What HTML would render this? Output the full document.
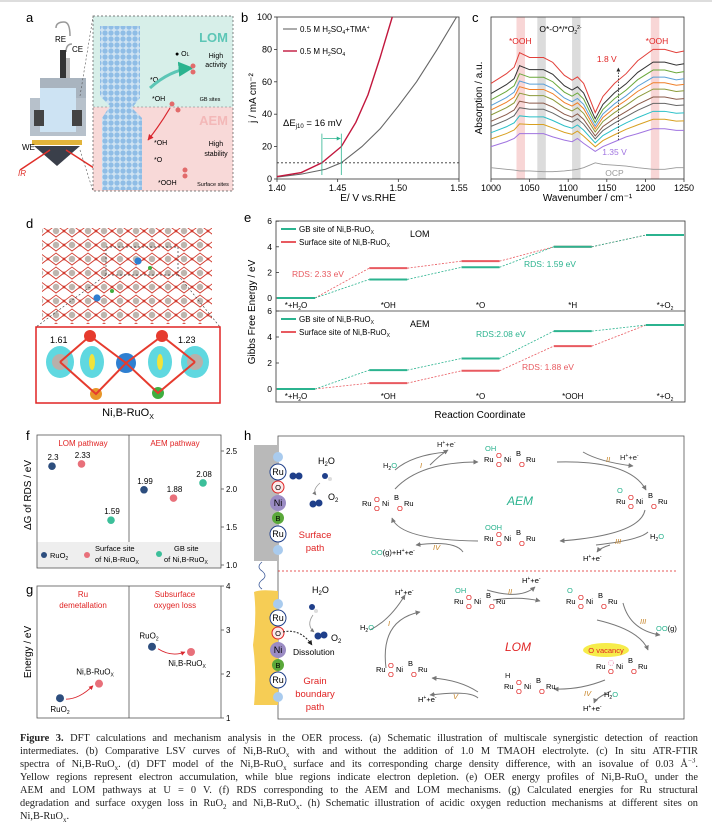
<!DOCTYPE html>
<html><head><meta charset="utf-8">
<style>
body{margin:0;background:#fff;width:712px;height:830px;overflow:hidden;font-family:"Liberation Sans",sans-serif}
#wrap{position:relative;width:712px;height:830px}
svg text{font-family:"Liberation Sans",sans-serif}
.cap{position:absolute;left:20px;width:678px;font-family:"Liberation Serif",serif;font-size:10.4px;line-height:13.0px;color:#222}
.cap div{text-align:justify;text-align-last:justify;white-space:nowrap;overflow:hidden;height:13px}
.cap div.last{text-align-last:left}
.cap sub,.cap sup{line-height:0;font-size:7px}
</style></head><body>
<div id="wrap">
<svg id="fig" width="712" height="830" viewBox="0 0 712 830" xmlns="http://www.w3.org/2000/svg">
<defs>
<pattern id="slab" width="6" height="6" patternUnits="userSpaceOnUse"><rect width="6" height="6" fill="#cfe3f2"/><circle cx="3" cy="3" r="2.6" fill="#8fbde6"/></pattern>
<pattern id="lat" width="16" height="14" patternUnits="userSpaceOnUse"><rect width="16" height="14" fill="#fff"/><path d="M0 7 L8 1 L16 7 L8 13Z" fill="none" stroke="#d23a2e" stroke-width="0.9"/><circle cx="8" cy="7" r="3.2" fill="#bdb5ae"/><circle cx="0" cy="7" r="1.4" fill="#d23a2e"/><circle cx="16" cy="7" r="1.4" fill="#d23a2e"/></pattern>
<marker id="arrG" viewBox="0 0 10 10" refX="9" refY="5" markerWidth="5" markerHeight="5" orient="auto"><path d="M0 0L10 5L0 10z" fill="#777"/></marker>
<marker id="arrR" viewBox="0 0 10 10" refX="9" refY="5" markerWidth="5" markerHeight="5" orient="auto"><path d="M0 0L10 5L0 10z" fill="#d9262e"/></marker>
<marker id="arrT" viewBox="0 0 10 10" refX="9" refY="5" markerWidth="5" markerHeight="5" orient="auto"><path d="M0 0L10 5L0 10z" fill="#2bb38f"/></marker>
<marker id="arrK" viewBox="0 0 10 10" refX="9" refY="5" markerWidth="5" markerHeight="5" orient="auto"><path d="M0 0L10 5L0 10z" fill="#222"/></marker>
</defs>
<rect x="0" y="0" width="712" height="2" fill="#ddd"/>

<!-- Panel a -->
<g>
<text x="26" y="22" font-size="13">a</text>
<g>
<path d="M56 28 Q56 22 64 22 Q70 22 70 36" fill="none" stroke="#999" stroke-width="1.5"/>
<path d="M66 52 Q66 44 72 44" fill="none" stroke="#999" stroke-width="1.5"/>
<text x="55" y="42" font-size="8">RE</text>
<text x="72" y="52" font-size="8">CE</text>
<rect x="60" y="50" width="6" height="70" fill="#333"/>
<rect x="66" y="58" width="4" height="55" fill="#bbb"/>
<rect x="40" y="78" width="46" height="20" fill="#a9b4bf"/>
<rect x="30" y="98" width="56" height="38" fill="#b7c1cb"/>
<rect x="40" y="88" width="36" height="44" fill="#cde3f3"/>
<rect x="34" y="110" width="10" height="16" fill="#444"/><rect x="72" y="110" width="10" height="16" fill="#444"/>
<rect x="32" y="140" width="50" height="5" fill="#e2b43a"/>
<path d="M34 146 L80 146 L57 166Z" fill="#3a3f4a"/>
<path d="M20 170 L50 150 M94 168 L66 150" stroke="#e0302a" stroke-width="1.5"/>
<text x="22" y="150" font-size="8">WE</text>
<text x="18" y="176" font-size="8" fill="#e0302a" font-style="italic">IR</text>
</g>
<path d="M80 96 L93 17 M80 150 L93 191" stroke="#555" stroke-dasharray="2,2" stroke-width="0.6"/>
<rect x="93" y="16" width="140" height="91" fill="#d7efe9"/>
<rect x="93" y="107" width="140" height="84" fill="#f8d9d8"/>
<rect x="93" y="16" width="140" height="175" fill="none" stroke="#555" stroke-dasharray="2,2" stroke-width="0.7"/>
<line x1="93" y1="107" x2="233" y2="107" stroke="#777" stroke-dasharray="2,2" stroke-width="0.6"/>
<path d="M100 26 L140 26 L140 98 L132 108 L142 118 L142 190 L102 190 L102 118 L110 106 L100 96Z" fill="url(#slab)"/>
<text x="228" y="42" font-size="13" font-weight="bold" fill="#5cc6b6" text-anchor="end">LOM</text>
<text x="228" y="125" font-size="13" font-weight="bold" fill="#f3b8b8" text-anchor="end">AEM</text>
<text x="216" y="58" font-size="7" text-anchor="middle">High</text><text x="216" y="67" font-size="7" text-anchor="middle">activity</text>
<text x="216" y="146" font-size="7" text-anchor="middle">High</text><text x="216" y="156" font-size="7" text-anchor="middle">stability</text>
<text x="210" y="101" font-size="5.5" text-anchor="middle">GB sites</text>
<text x="213" y="186" font-size="5.5" text-anchor="middle">Surface sites</text>
<text x="150" y="82" font-size="7">*O</text><text x="152" y="101" font-size="7">*OH</text>
<text x="154" y="145" font-size="7">*OH</text><text x="154" y="162" font-size="7">*O</text><text x="158" y="185" font-size="7">*OOH</text>
<text x="175" y="56" font-size="7">● O<tspan font-size="5">L</tspan></text>
<path d="M150 88 Q170 70 192 68" fill="none" stroke="#5cc6b6" stroke-width="3" marker-end="url(#arrT)"/>
<path d="M170 108 Q160 125 148 140" fill="none" stroke="#d9262e" stroke-width="1.2" marker-end="url(#arrR)"/>
<circle cx="193" cy="66" r="2.5" fill="#e26b6b"/><circle cx="193" cy="72" r="2.5" fill="#e26b6b"/>
<circle cx="172" cy="104" r="2.5" fill="#e26b6b"/><circle cx="178" cy="110" r="2.5" fill="#e26b6b"/>
<circle cx="185" cy="170" r="2.5" fill="#e26b6b"/><circle cx="185" cy="176" r="2.5" fill="#e26b6b"/>
</g>

<!-- Panel d -->
<g>
<text x="26" y="228" font-size="13">d</text>
<rect x="42" y="222" width="170" height="102" fill="url(#lat)"/>
<rect x="42" y="222" width="170" height="6" fill="#fff"/>
<circle cx="138" cy="261" r="3.6" fill="#2e7fd1"/><circle cx="97" cy="298" r="3.6" fill="#2e7fd1"/>
<circle cx="150" cy="268" r="2" fill="#3fae3f"/><circle cx="112" cy="291" r="2" fill="#3fae3f"/>
<rect x="106" y="247" width="72" height="28" fill="none" stroke="#333" stroke-dasharray="2,2" stroke-width="0.7"/>
<path d="M106 275 L36 327 M178 275 L220 327" stroke="#333" stroke-dasharray="2,2" stroke-width="0.6"/>
<rect x="36" y="327" width="184" height="76" fill="#fff" stroke="#e02424" stroke-width="1.5"/>
<g>
<ellipse cx="60" cy="362" rx="14" ry="16" fill="#5fd8e0"/><circle cx="60" cy="362" r="8" fill="#b8b0aa"/>
<ellipse cx="92" cy="362" rx="12" ry="16" fill="#5fd8e0"/><ellipse cx="92" cy="362" rx="3" ry="8" fill="#f1e33a"/>
<ellipse cx="160" cy="362" rx="12" ry="16" fill="#5fd8e0"/><ellipse cx="160" cy="362" rx="3" ry="8" fill="#f1e33a"/>
<ellipse cx="195" cy="362" rx="14" ry="16" fill="#5fd8e0"/><circle cx="195" cy="362" r="8" fill="#b8b0aa"/>
<circle cx="126" cy="363" r="10" fill="#2e7fd1"/>
<circle cx="90" cy="336" r="6" fill="#e63b2e"/><circle cx="162" cy="336" r="6" fill="#e63b2e"/>
<circle cx="96" cy="394" r="6" fill="#e8962a"/><circle cx="158" cy="393" r="6" fill="#3fae3f"/>
<path d="M60 362 L90 336 L126 363 L162 336 L195 362 M60 362 L96 394 L126 363 L158 393 L195 362" stroke="#e63b2e" stroke-width="2" fill="none"/>
</g>
<text x="50" y="343" font-size="9">1.61</text>
<text x="178" y="343" font-size="9">1.23</text>
<text x="128" y="416" font-size="11" text-anchor="middle">Ni,B-RuO<tspan font-size="7" dy="3">X</tspan></text>
</g>

<g id="pb"></g>
<g id="pc"></g>
<g id="pe"></g>
<g id="pf"></g>
<g id="pg"></g>

<!-- Panel h -->
<g font-size="7.5">
<text x="244" y="440" font-size="13">h</text>
<rect x="278" y="436" width="406" height="283" fill="#fff" stroke="#555" stroke-width="0.8"/>
<rect x="254" y="445" width="24" height="116" fill="#b9b9b9"/>
<path d="M262 562 q-6 5 0 9 q6 5 0 9 q-6 5 0 9" fill="none" stroke="#3c5a9a" stroke-width="0.8"/>
<path d="M254 592 q6 -3 24 -1 L278 705 L254 705 q3 -30 -1 -60 q4 -30 1 -53z" fill="#f6cd55"/>
<g id="atomsTop"></g><g id="atomsBot"></g>
<text x="318" y="464" font-size="9">H<tspan font-size="6" dy="2">2</tspan><tspan dy="-2">O</tspan></text>
<circle cx="325" cy="476" r="3" fill="#1f3f8a"/><circle cx="330" cy="479" r="2" fill="#ddd"/>
<circle cx="313" cy="504" r="3.5" fill="#1f3f8a"/><circle cx="319" cy="503" r="3.5" fill="#1f3f8a"/>
<text x="328" y="500" font-size="9">O<tspan font-size="6" dy="2">2</tspan></text>
<circle cx="293" cy="476" r="3.5" fill="#1f3f8a"/><circle cx="299" cy="476" r="3.5" fill="#1f3f8a"/>
<path d="M320 483 Q312 490 316 495" fill="none" stroke="#999" stroke-width="0.8" marker-end="url(#arrG)"/>
<text x="315" y="538" font-size="9.5" fill="#e02424" text-anchor="middle">Surface</text>
<text x="315" y="551" font-size="9.5" fill="#e02424" text-anchor="middle">path</text>
<text x="312" y="593" font-size="9">H<tspan font-size="6" dy="2">2</tspan><tspan dy="-2">O</tspan></text>
<circle cx="312" cy="607" r="3" fill="#1f3f8a"/><circle cx="316" cy="611" r="2" fill="#ddd"/>
<circle cx="318" cy="636" r="3.5" fill="#1f3f8a"/><circle cx="324" cy="635" r="3.5" fill="#1f3f8a"/>
<text x="331" y="641" font-size="9">O<tspan font-size="6" dy="2">2</tspan></text>
<path d="M313 615 Q306 625 314 632" fill="none" stroke="#999" stroke-width="0.8" marker-end="url(#arrG)"/>
<path d="M283 632 Q300 628 312 645" fill="none" stroke="#222" stroke-width="1" stroke-dasharray="2,1.5" marker-end="url(#arrK)"/>
<text x="293" y="655" font-size="8.5">Dissolution</text>
<text x="315" y="684" font-size="9.5" fill="#e02424" text-anchor="middle">Grain</text>
<text x="315" y="697" font-size="9.5" fill="#e02424" text-anchor="middle">boundary</text>
<text x="315" y="710" font-size="9.5" fill="#e02424" text-anchor="middle">path</text>
<line x1="278" y1="571" x2="676" y2="571" stroke="#e02424" stroke-dasharray="2,2" stroke-width="0.8"/>
<g fill="none" stroke="#777" stroke-width="1">
<path d="M395 489 Q420 462 478 462" marker-end="url(#arrG)"/>
<path d="M557 462 Q630 460 646 490" marker-end="url(#arrG)"/>
<path d="M645 510 Q640 535 560 541" marker-end="url(#arrG)"/>
<path d="M478 541 Q400 540 392 518" marker-end="url(#arrG)"/>
<path d="M395 470 Q412 455 447 452"/><path d="M430 465 Q440 455 448 450" marker-end="url(#arrG)"/>
<path d="M583 452 Q600 462 633 466" marker-end="url(#arrG)"/>
<path d="M648 532 Q640 540 596 545" /><path d="M610 545 Q600 548 597 552" marker-end="url(#arrG)"/>
<path d="M463 552 Q455 540 416 545" marker-end="url(#arrG)"/>
</g>
<text x="437" y="447" fill="#222">H<tspan font-size="5" dy="-3">+</tspan><tspan dy="3">+e</tspan><tspan font-size="5" dy="-3">-</tspan></text>
<text x="383" y="468"><tspan fill="#222">H</tspan><tspan font-size="5" dy="2">2</tspan><tspan dy="-2" fill="#2bb38f">O</tspan></text>
<text x="420" y="468" fill="#c8862a" font-style="italic">I</text>
<text x="606" y="462" fill="#c8862a" font-style="italic">II</text>
<text x="620" y="460" fill="#222">H<tspan font-size="5" dy="-3">+</tspan><tspan dy="3">+e</tspan><tspan font-size="5" dy="-3">-</tspan></text>
<text x="615" y="544" fill="#c8862a" font-style="italic">III</text>
<text x="650" y="539"><tspan>H</tspan><tspan font-size="5" dy="2">2</tspan><tspan dy="-2" fill="#2bb38f">O</tspan></text>
<text x="583" y="561">H<tspan font-size="5" dy="-3">+</tspan><tspan dy="3">+e</tspan><tspan font-size="5" dy="-3">-</tspan></text>
<text x="433" y="550" fill="#c8862a" font-style="italic">IV</text>
<text x="371" y="555"><tspan fill="#2bb38f">OO</tspan>(g)+H<tspan font-size="5" dy="-3">+</tspan><tspan dy="3">+e</tspan><tspan font-size="5" dy="-3">-</tspan></text>
<text x="520" y="505" font-size="12" font-style="italic" fill="#2bb38f" text-anchor="middle">AEM</text>
<g fill="none" stroke="#777" stroke-width="1">
<path d="M386 668 Q380 620 420 612" marker-end="url(#arrG)"/>
<path d="M493 600 Q520 596 540 601" marker-end="url(#arrG)"/>
<path d="M597 620 Q640 630 648 650" marker-end="url(#arrG)"/>
<path d="M605 680 Q580 690 554 689" marker-end="url(#arrG)"/>
<path d="M478 692 Q460 680 432 678" marker-end="url(#arrG)"/>
<path d="M370 630 Q390 620 405 595" marker-end="url(#arrG)"/>
<path d="M487 590 Q520 600 535 587" marker-end="url(#arrG)"/>
<path d="M623 603 Q630 630 660 635" marker-end="url(#arrG)"/>
<path d="M611 691 Q596 698 594 703" marker-end="url(#arrG)"/>
<path d="M478 698 Q470 690 430 695" marker-end="url(#arrG)"/>
</g>
<text x="395" y="595">H<tspan font-size="5" dy="-3">+</tspan><tspan dy="3">+e</tspan><tspan font-size="5" dy="-3">-</tspan></text>
<text x="360" y="630"><tspan>H</tspan><tspan font-size="5" dy="2">2</tspan><tspan dy="-2" fill="#2bb38f">O</tspan></text>
<text x="388" y="626" fill="#c8862a" font-style="italic">I</text>
<text x="508" y="594" fill="#c8862a" font-style="italic">II</text>
<text x="522" y="583">H<tspan font-size="5" dy="-3">+</tspan><tspan dy="3">+e</tspan><tspan font-size="5" dy="-3">-</tspan></text>
<text x="640" y="624" fill="#c8862a" font-style="italic">III</text>
<text x="656" y="631"><tspan fill="#2bb38f">OO</tspan>(g)</text>
<ellipse cx="606" cy="650" rx="23" ry="7" fill="#f6ec4a"/>
<text x="606" y="653" fill="#e02424" text-anchor="middle">O vacancy</text>
<text x="583" y="711">H<tspan font-size="5" dy="-3">+</tspan><tspan dy="3">+e</tspan><tspan font-size="5" dy="-3">-</tspan></text>
<text x="584" y="696" fill="#c8862a" font-style="italic">IV</text>
<text x="604" y="697"><tspan>H</tspan><tspan font-size="5" dy="2">2</tspan><tspan dy="-2" fill="#2bb38f">O</tspan></text>
<text x="453" y="699" fill="#c8862a" font-style="italic">V</text>
<text x="418" y="702">H<tspan font-size="5" dy="-3">+</tspan><tspan dy="3">+e</tspan><tspan font-size="5" dy="-3">-</tspan></text>
<text x="518" y="651" font-size="12" font-style="italic" fill="#e02424" text-anchor="middle">LOM</text>
<g id="structs"></g>
</g>
</svg>

<div class="cap" style="top:732px">
<div><b>Figure 3.</b> DFT calculations and mechanism analysis in the OER process. (a) Schematic illustration of multiscale synergistic detection of reaction</div>
<div>intermediates. (b) Comparative LSV curves of Ni,B-RuO<sub>x</sub> with and without the addition of 1.0 M TMAOH electrolyte. (c) In situ ATR-FTIR</div>
<div>spectra of Ni,B-RuO<sub>x</sub>. (d) DFT model of the Ni,B-RuO<sub>x</sub> surface and its corresponding charge density difference, with an isovalue of 0.03 Å<sup>−3</sup>.</div>
<div>Yellow regions represent electron accumulation, while blue regions indicate electron depletion. (e) OER energy profiles of Ni,B-RuO<sub>x</sub> under the</div>
<div>AEM and LOM pathways at U = 0 V. (f) RDS corresponding to the AEM and LOM mechanisms. (g) Calculated energies for Ru structural</div>
<div>degradation and surface oxygen loss in RuO<sub>2</sub> and Ni,B-RuO<sub>x</sub>. (h) Schematic illustration of acidic oxygen reduction mechanisms at different sites on</div>
<div class="last">Ni,B-RuO<sub>x</sub>.</div>
</div>
</div>

<script>
const bRedE = [1.40,1.42,1.437,1.453,1.465,1.475,1.485,1.495];
const bRedJ = [1.5,4,10,20,35,52,75,100];
const bGrayE = [1.40,1.42,1.44,1.453,1.47,1.485,1.50,1.515,1.532,1.548];
const bGrayJ = [1.2,3,6,10,20,31,45,60,80,100];
const bXTicks = [1.40,1.45,1.50,1.55];
const bYTicks = [0,20,40,60,80,100];

const cWave = [1000,1020,1030,1037,1050,1068,1080,1095,1105,1112,1120,1135,1145,1160,1175,1190,1210,1225,1240,1250];
const cTop = [59,65,69,78,75,75,72,64,61,63,59,41,51,59,65,73,80,80,78,79];
const cBottom = [20,23,25,28,28,28,26,24,23,25,22,17,20,23,26,28,31,31,30,30];
const cOCP = [7,6,5.5,5,5,4.5,4.5,5,5.5,6,7,10,9,8.5,8,7,6,6,7,7];
const cLevels = [1,0.84,0.74,0.65,0.58,0.5,0.4,0.32,0.22,0.12,0];
const cColors = ["#e2403a","#333","#6aa83a","#5aa0d8","#ef7f28","#8c9a3a","#8a5a4a","#666","#2bc0c8","#d8a020","#a074e0"];
const cXTicks = [1000,1050,1100,1150,1200,1250];

const eSteps = ["*+H2O","*OH","*O","*H","*+O2"];
const eStepsAEM = ["*+H2O","*OH","*O","*OOH","*+O2"];
const eLomGB = [0,1.45,2.4,4.0,4.92];
const eLomSurf = [0,2.33,2.88,4.0,4.92];
const eAemGB = [0,1.45,2.35,4.45,4.92];
const eAemSurf = [0,0.45,1.4,3.3,4.92];
const eYTicks = [0,2,4,6];

const fGroups = ["LOM pathway","AEM pathway"];
const fRuO2 = [2.3,1.99];
const fSurf = [2.33,1.88];
const fGB = [1.59,2.08];
const fYTicks = [1.0,1.5,2.0,2.5];

const gGroups = ["Ru demetallation","Subsurface oxygen loss"];
const gRuO2 = [1.45,2.62];
const gNiB = [1.78,2.5];
const gYTicks = [1,2,3,4];

const NS = "http://www.w3.org/2000/svg";
function mk(parent, tag, attrs, txt){
  const el = document.createElementNS(NS, tag);
  for (const k in attrs) el.setAttribute(k, attrs[k]);
  if (txt !== undefined) el.textContent = txt;
  parent.appendChild(el);
  return el;
}

(function(){
  const g = document.getElementById("pb");
  const L=277,R=459,T=17,B=179;
  const x = e => L + (e-1.40)/0.15*(R-L);
  const y = j => B - j/100*(B-T);
  let t = mk(g,"text",{x:241,y:22,"font-size":13});
  t.textContent="b";
  
  
  const frame = mk(g,"rect",{x:L,y:T,width:R-L,height:B-T,fill:"none",stroke:"#333","stroke-width":0.8});
  
  
  bXTicks.forEach(v=>{
    mk(g,"line",{x1:x(v),x2:x(v),y1:B,y2:B+3,stroke:"#333","stroke-width":0.8});
    const tl = mk(g,"text",{x:x(v),y:B+12,"font-size":9,"text-anchor":"middle"},v.toFixed(2));
    
    
  });
  bYTicks.forEach(v=>{
    mk(g,"line",{x1:L-3,x2:L,y1:y(v),y2:y(v),stroke:"#333","stroke-width":0.8});
    const tl = mk(g,"text",{x:L-5,y:y(v)+3,"font-size":9,"text-anchor":"end"},v);
    
    
  });
  const xt = mk(g,"text",{x:368,y:201,"font-size":10,"text-anchor":"middle"},"E/ V vs.RHE");
  
  
  const yt = mk(g,"text",{x:0,y:0,"font-size":10,"text-anchor":"middle",transform:`translate(256,${(T+B)/2}) rotate(-90)`},"j / mA cm⁻²");
  
  
  const ref = mk(g,"line",{x1:L,x2:R,y1:y(10),y2:y(10),stroke:"#333","stroke-dasharray":"2,2","stroke-width":0.8});
  
  
  const gray = mk(g,"polyline",{points:bGrayE.map((e,i)=>x(e)+","+y(bGrayJ[i])).join(" "),fill:"none",stroke:"#666","stroke-width":1.1});
  
  
  const red = mk(g,"polyline",{points:bRedE.map((e,i)=>x(e)+","+y(bRedJ[i])).join(" "),fill:"none",stroke:"#c2173d","stroke-width":1.4});
  
  
  const e1=bRedE[2], e2=bGrayE[3];
  mk(g,"line",{x1:x(e1),x2:x(e1),y1:y(28),y2:B-4,stroke:"#2bb38f","stroke-width":0.8});
  mk(g,"line",{x1:x(e2),x2:x(e2),y1:y(28),y2:B-4,stroke:"#2bb38f","stroke-width":0.8});
  mk(g,"line",{x1:x(e1)+1,x2:x(e2)-1,y1:y(25),y2:y(25),stroke:"#2bb38f","stroke-width":0.8,"marker-end":"url(#arrT)"});
  const de = mk(g,"text",{x:283,y:126,"font-size":9.5});
  de.innerHTML = 'ΔE<tspan font-size="6" dy="2">j10</tspan><tspan dy="-2"> = 16 mV</tspan>';
  
  
  mk(g,"line",{x1:283,x2:297,y1:29,y2:29,stroke:"#666","stroke-width":1.1});
  mk(g,"line",{x1:283,x2:297,y1:51,y2:51,stroke:"#c2173d","stroke-width":1.4});
  const l1 = mk(g,"text",{x:300,y:32,"font-size":8});
  l1.innerHTML='0.5 M H<tspan font-size="5" dy="2">2</tspan><tspan dy="-2">SO</tspan><tspan font-size="5" dy="2">4</tspan><tspan dy="-2">+TMA</tspan><tspan font-size="5" dy="-3">+</tspan>';
  
  
  const l2 = mk(g,"text",{x:300,y:54,"font-size":8});
  l2.innerHTML='0.5 M H<tspan font-size="5" dy="2">2</tspan><tspan dy="-2">SO</tspan><tspan font-size="5" dy="2">4</tspan>';
  
  
})();

(function(){
  const g = document.getElementById("pc");
  const L=491,R=684,T=17,B=179;
  const x = w => L + (w-1000)/250*(R-L);
  const y = v => B - v/100*(B-T);
  let t = mk(g,"text",{x:472,y:22,"font-size":13},"c");
  
  
  [[1033,1044,"#f8d6d6"],[1060,1071,"#dcdcdc"],[1105,1116,"#dcdcdc"],[1207,1218,"#f8d6d6"]].forEach(b=>{
    const r = mk(g,"rect",{x:x(b[0]),y:T,width:x(b[1])-x(b[0]),height:B-T,fill:b[2]});
    
    
  });
  const frame = mk(g,"rect",{x:L,y:T,width:R-L,height:B-T,fill:"none",stroke:"#333","stroke-width":0.8});
  
  
  cXTicks.forEach(v=>{
    mk(g,"line",{x1:x(v),x2:x(v),y1:B,y2:B+3,stroke:"#333","stroke-width":0.8});
    const tl = mk(g,"text",{x:x(v),y:B+12,"font-size":9,"text-anchor":"middle"},v);
    
    
  });
  const xt = mk(g,"text",{x:(L+R)/2,y:201,"font-size":10,"text-anchor":"middle"},"Wavenumber / cm⁻¹");
  
  
  const yt = mk(g,"text",{x:0,y:0,"font-size":10,"text-anchor":"middle",transform:`translate(482,${(T+B)/2}) rotate(-90)`},"Absorption / a.u.");
  
  
  const ocp = mk(g,"polyline",{points:cWave.map((w,i)=>x(w)+","+y(cOCP[i])).join(" "),fill:"none",stroke:"#999","stroke-width":0.9});
  
  
  cLevels.slice().reverse().forEach((f,ri)=>{
    const i = cLevels.length-1-ri;
    const pts = cWave.map((w,k)=>x(w)+","+y(cBottom[k]+f*(cTop[k]-cBottom[k]))).join(" ");
    const pl = mk(g,"polyline",{points:pts,fill:"none",stroke:cColors[i],"stroke-width":1});
    
    
  });
  mk(g,"line",{x1:x(1165),x2:x(1165),y1:140,y2:68,stroke:"#222","stroke-dasharray":"1.5,1.5","stroke-width":0.8,"marker-end":"url(#arrK)"});
  const a = [["*OOH",x(1038),44,"#e02424"],["*OOH",x(1215),44,"#e02424"],["1.8 V",x(1150),62,"#e02424"],["1.35 V",x(1160),155,"#a074e0"],["OCP",x(1160),176,"#999"]];
  a.forEach(s=>{
    const tx = mk(g,"text",{x:s[1],y:s[2],"font-size":8.5,fill:s[3],"text-anchor":"middle"},s[0]);
    
    
  });
  const oo = mk(g,"text",{x:x(1090),y:32,"font-size":8.5,"text-anchor":"middle"});
  oo.innerHTML='O*-O*/*O<tspan font-size="5" dy="2">2</tspan><tspan font-size="5" dy="-5">2-</tspan>';
  
  
})();

(function(){
  const g = document.getElementById("pe");
  const L=276,R=685,T=221,M=311,B=402;
  const cx = i => 296 + i*(R-L-40)/4;
  const yT = v => 298 - v*12.8;
  const yB = v => 389 - v*13;
  let t = mk(g,"text",{x:244,y:222,"font-size":13},"e");
  
  
  const fr = mk(g,"rect",{x:L,y:T,width:R-L,height:B-T,fill:"none",stroke:"#333","stroke-width":0.8});
  
  
  mk(g,"line",{x1:L,x2:R,y1:M,y2:M,stroke:"#333","stroke-width":0.8});
  eYTicks.forEach(v=>{
    [yT,yB].forEach(fn=>{
      mk(g,"line",{x1:L,x2:L+3,y1:fn(v),y2:fn(v),stroke:"#333","stroke-width":0.8});
      const tl = mk(g,"text",{x:L-4,y:fn(v)+3,"font-size":8.5,"text-anchor":"end"},v);
      
      
    });
  });
  function drawSet(vals, ys, color, name){
    vals.forEach((v,i)=>{
      const ln = mk(g,"line",{x1:cx(i)-19,x2:cx(i)+19,y1:ys(v),y2:ys(v),stroke:color,"stroke-width":2});
      
      
      if(i<vals.length-1){
        const c = mk(g,"line",{x1:cx(i)+19,x2:cx(i+1)-19,y1:ys(v),y2:ys(vals[i+1]),stroke:color,"stroke-width":0.8,"stroke-dasharray":"2,1.5"});
        
        
      }
    });
  }
  drawSet(eLomSurf,yT,"#e85a60","lom-surface");
  drawSet(eLomGB,yT,"#2bb38f","lom-gb");
  drawSet(eAemSurf,yB,"#e85a60","aem-surface");
  drawSet(eAemGB,yB,"#2bb38f","aem-gb");
  function labels(arr, yy){
    arr.forEach((s,i)=>{
      const tl = mk(g,"text",{x:cx(i),y:yy,"font-size":8,"text-anchor":"middle"});
      if(s.endsWith("H2O")) tl.innerHTML='*+H<tspan font-size="5" dy="2">2</tspan><tspan dy="-2">O</tspan>';
      else if(s.endsWith("O2")) tl.innerHTML='*+O<tspan font-size="5" dy="2">2</tspan>';
      else tl.textContent=s;
      
      
    });
  }
  labels(eSteps,308); labels(eStepsAEM,399);
  [[T,"LOM"],[M,"AEM"]].forEach(p=>{
    mk(g,"line",{x1:281,x2:296,y1:p[0]+8,y2:p[0]+8,stroke:"#2bb38f","stroke-width":2});
    mk(g,"line",{x1:281,x2:296,y1:p[0]+21,y2:p[0]+21,stroke:"#e85a60","stroke-width":2});
    const a = mk(g,"text",{x:299,y:p[0]+11,"font-size":8});
    a.innerHTML='GB site of Ni,B-RuO<tspan font-size="5" dy="2">X</tspan>';
    
    
    const b = mk(g,"text",{x:299,y:p[0]+24,"font-size":8});
    b.innerHTML='Surface site of Ni,B-RuO<tspan font-size="5" dy="2">X</tspan>';
    
    
    const m = mk(g,"text",{x:410,y:p[0]+16,"font-size":9},p[1]);
    
    
  });
  [["RDS: 2.33 eV",292,277,"#e85a60"],["RDS: 1.59 eV",524,267,"#2bb38f"],["RDS:2.08 eV",476,337,"#2bb38f"],["RDS: 1.88 eV",522,370,"#e85a60"]].forEach(s=>{
    const r = mk(g,"text",{x:s[1],y:s[2],"font-size":8.5,fill:s[3]},s[0]);
    
    
  });
  const xt = mk(g,"text",{x:480,y:418,"font-size":10,"text-anchor":"middle"},"Reaction Coordinate");
  
  
  const yt = mk(g,"text",{x:0,y:0,"font-size":10,"text-anchor":"middle",transform:"translate(255,312) rotate(-90)"},"Gibbs Free Energy / eV");
  
  
})();

(function(){
  const g = document.getElementById("pf");
  const L=37,R=221,T=435,B=568,D=129;
  const y = v => 565 - (v-1)*76;
  const x = (grp,s) => L + grp*(D-L) + 15 + s*29.5;
  let t = mk(g,"text",{x:26,y:440,"font-size":13},"f");
  
  
  const lg = mk(g,"rect",{x:L,y:542,width:R-L,height:B-542,fill:"#eeeeee"});
  
  
  const fr = mk(g,"rect",{x:L,y:T,width:R-L,height:B-T,fill:"none",stroke:"#555","stroke-width":0.8});
  
  
  mk(g,"line",{x1:D,x2:D,y1:T,y2:542,stroke:"#555","stroke-width":0.8});
  fYTicks.forEach(v=>{
    mk(g,"line",{x1:R,x2:R+3,y1:y(v),y2:y(v),stroke:"#555","stroke-width":0.8});
    const tl = mk(g,"text",{x:R+5,y:y(v)+3,"font-size":8},v.toFixed(1));
    
    
  });
  fGroups.forEach((n,i)=>{
    const tl = mk(g,"text",{x:(i? (D+R)/2:(L+D)/2),y:446,"font-size":8,fill:"#e02424","text-anchor":"middle"},n);
    
    
  });
  [[fRuO2,"#2d4e7e"],[fSurf,"#e8707a"],[fGB,"#3cbf9a"]].forEach((ser,s)=>{
    ser[0].forEach((v,grp)=>{
      const c = mk(g,"circle",{cx:x(grp,s),cy:y(v),r:3.8,fill:ser[1]});
      
      
      const tl = mk(g,"text",{x:x(grp,s)+1,y:y(v)-6,"font-size":8,"text-anchor":"middle"},String(v));
      
      
    });
  });
  const yt = mk(g,"text",{x:0,y:0,"font-size":10,"text-anchor":"middle",transform:"translate(31,495) rotate(-90)"},"ΔG of RDS / eV");
  
  
  mk(g,"circle",{cx:44,cy:555,r:3,fill:"#2d4e7e"});
  mk(g,"circle",{cx:87,cy:555,r:3,fill:"#e8707a"});
  mk(g,"circle",{cx:159,cy:554,r:3,fill:"#3cbf9a"});
  const e1 = mk(g,"text",{x:50,y:558,"font-size":7.5});
  e1.innerHTML='RuO<tspan font-size="5" dy="2">2</tspan>';
  
  
  const e2 = mk(g,"text",{x:95,y:551,"font-size":7.5},"Surface site");
  
  
  const e2b = mk(g,"text",{x:95,y:562,"font-size":7.5});
  e2b.innerHTML='of Ni,B-RuO<tspan font-size="5" dy="2">X</tspan>';
  const e3 = mk(g,"text",{x:174,y:551,"font-size":7.5},"GB site");
  
  
  const e3b = mk(g,"text",{x:164,y:562,"font-size":7.5});
  e3b.innerHTML='of Ni,B-RuO<tspan font-size="5" dy="2">X</tspan>';
})();

(function(){
  const g = document.getElementById("pg");
  const L=37,R=221,T=586,B=718,D=129;
  const y = v => 718 - (v-1)*44;
  const x = (grp,s) => L + grp*(D-L) + 23 + s*39;
  let t = mk(g,"text",{x:26,y:594,"font-size":13},"g");
  
  
  const fr = mk(g,"rect",{x:L,y:T,width:R-L,height:B-T,fill:"none",stroke:"#555","stroke-width":0.8});
  
  
  mk(g,"line",{x1:D,x2:D,y1:T,y2:B,stroke:"#555","stroke-width":0.8});
  gYTicks.forEach(v=>{
    mk(g,"line",{x1:R,x2:R+3,y1:y(v),y2:y(v),stroke:"#555","stroke-width":0.8});
    const tl = mk(g,"text",{x:R+5,y:y(v)+3,"font-size":8},v);
    
    
  });
  gGroups.forEach((n,i)=>{
    const w = i? ["Subsurface","oxygen loss"]:["Ru","demetallation"];
    w.forEach((s,k)=>{
      const tl = mk(g,"text",{x:(i?(D+R)/2:(L+D)/2),y:597+k*11,"font-size":8,fill:"#e02424","text-anchor":"middle"},s);
      
      
    });
  });
  gRuO2.forEach((v,grp)=>{
    const c = mk(g,"circle",{cx:x(grp,0),cy:y(v),r:4,fill:"#2d4e7e"});
    
    
    const n = gNiB[grp];
    const c2 = mk(g,"circle",{cx:x(grp,1),cy:y(n),r:4,fill:"#e8707a"});
    
    
    const ar = mk(g,"path",{d:`M${x(grp,0)+6} ${y(v)+ (grp?2:1)} Q${(x(grp,0)+x(grp,1))/2} ${(y(v)+y(n))/2+8} ${x(grp,1)-6} ${y(n)+(grp?0:2)}`,fill:"none",stroke:"#d9262e","stroke-width":0.9,"marker-end":"url(#arrR)"});
    
    
    const l1 = mk(g,"text",{x:x(grp,0)+(grp?-3:0),y:grp? y(v)-8 : y(v)+14,"font-size":8,"text-anchor":"middle"});
    l1.innerHTML='RuO<tspan font-size="5" dy="2">2</tspan>';
    
    
    const l2 = mk(g,"text",{x:x(grp,1)-4,y:grp? y(n)+14 : y(n)-9,"font-size":8,"text-anchor":"middle"});
    l2.innerHTML='Ni,B-RuO<tspan font-size="5" dy="2">X</tspan>';
    
    
  });
  const yt = mk(g,"text",{x:0,y:0,"font-size":10,"text-anchor":"middle",transform:"translate(31,652) rotate(-90)"},"Energy / eV");
  
  
})();

(function(){
  const specs = [["","#a9cbee",5],["Ru","#fff",8],["O","#fbe9e9",6],["Ni","#9b8cc4",8],["B","#5aa83a",6],["Ru","#fff",8],["","#a9cbee",5]];
  [[document.getElementById("atomsTop"),[457,472,487,503,518,534,550]],[document.getElementById("atomsBot"),[604,618,633,650,665,680,697]]].forEach(p=>{
    specs.forEach((s,i)=>{
      const c = mk(p[0],"circle",{cx:278,cy:p[1][i],r:s[2],fill:s[1],stroke:s[0]==="Ru"?"#1f3f8a":(s[0]==="O"?"#e02424":"none"),"stroke-width":1});
      
      
      if(s[0]){ mk(p[0],"text",{x:278,y:p[1][i]+3,"font-size":s[2]>6?9:7.5,"text-anchor":"middle"},s[0]); }
    });
  });
  const host = document.getElementById("structs");
  const list = [[484,462,"OH"],[616,504,"O"],[484,541,"OOH"],[362,506,""],[454,604,"OH"],[566,604,"O"],[596,669,"vac"],[504,689,"H"],[376,672,""]];
  list.forEach(s=>{
    const gg = mk(host,"g",{"font-size":7.5});
    
    
    const X=s[0], Y=s[1];
    mk(gg,"text",{x:X,y:Y},"Ru");
    if(s[2]==="vac") mk(gg,"circle",{cx:X+15,cy:Y-6,r:2.5,fill:"none",stroke:"#f2a0c0","stroke-dasharray":"1,1"});
    else mk(gg,"text",{x:X+12,y:Y-4,fill:"#e02424"},"O");
    mk(gg,"text",{x:X+12,y:Y+5,fill:"#e02424"},"O");
    mk(gg,"text",{x:X+20,y:Y},"Ni");
    mk(gg,"text",{x:X+32,y:Y-6},"B");
    mk(gg,"text",{x:X+35,y:Y+5,fill:"#e02424"},"O");
    mk(gg,"text",{x:X+42,y:Y},"Ru");
    if(s[2] && s[2]!=="vac") mk(gg,"text",{x:X+1,y:Y-11,fill:s[2]==="H"?"#222":"#2bb38f"},s[2]);
  });
})();
</script>
</body></html>
